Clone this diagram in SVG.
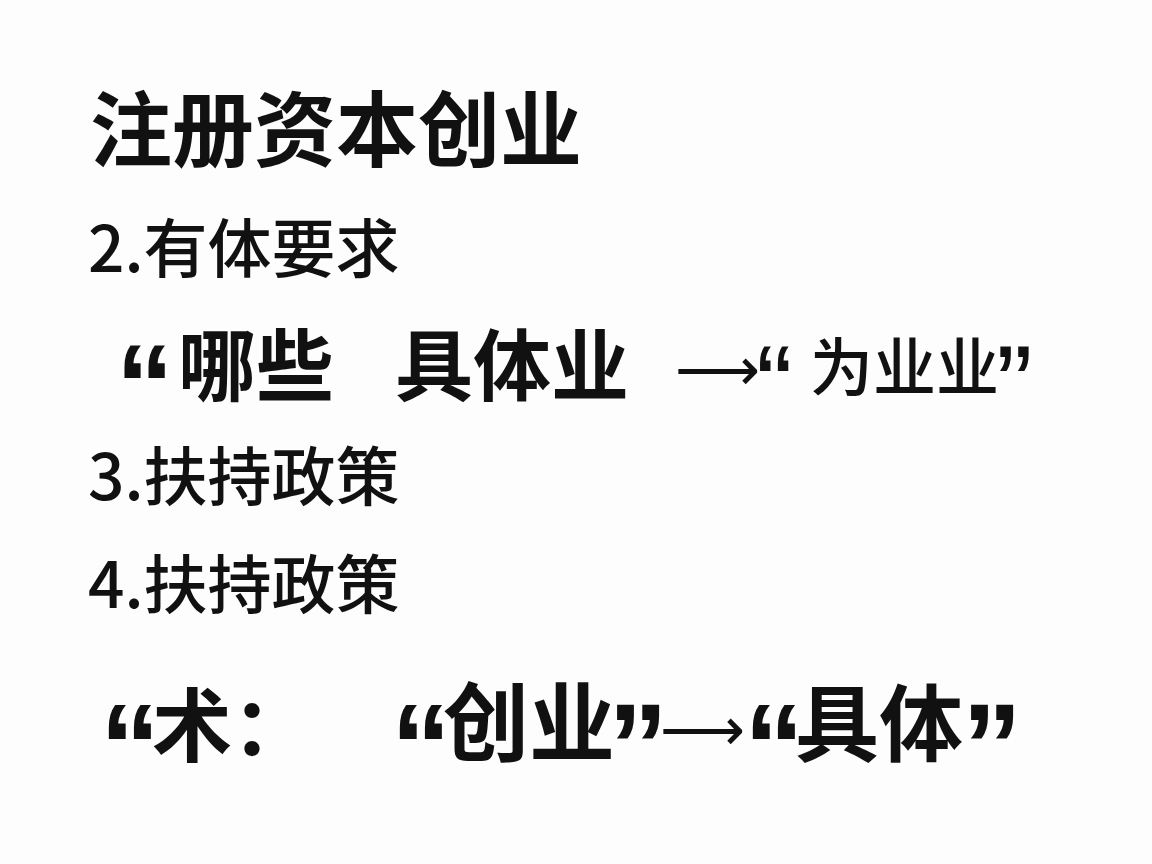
<svg xmlns="http://www.w3.org/2000/svg" width="1152" height="864" viewBox="0 0 1152 864">
<style>
text{font-family:"Noto Sans CJK SC","Noto Sans",sans-serif;fill:#111}
.b{font-weight:bold}
.r{font-weight:500}
.q{font-family:"Liberation Sans",Arial,sans-serif;font-weight:bold}
.qr{font-family:"Liberation Sans",Arial,sans-serif}
.a{font-family:"DejaVu Sans",sans-serif}
</style>
<rect width="1152" height="864" fill="#fdfdfd"/>
<g id="title"><text x="90" y="160" font-size="82" class="b">注册资本创业</text></g>
<g id="l2"><text x="88" y="272" font-size="64" class="r">2.有体要求</text></g>
<g id="l3">
<text x="116" y="425" font-size="115" class="q">“</text>
<text x="178" y="395" font-size="78" class="b">哪些</text>
<text x="395" y="395" font-size="78" class="b">具体业</text>
<text x="675" y="390" font-size="60" class="a" textLength="85" lengthAdjust="spacingAndGlyphs">⟶</text>
<text x="756" y="422" font-size="110" class="qr">“</text>
<text x="810" y="390" font-size="63" class="r">为业业</text>
<text x="996" y="422" font-size="110" class="qr">”</text>
</g>
<g id="l4"><text x="88" y="500" font-size="64" class="r">3.扶持政策</text></g>
<g id="l5"><text x="88" y="608" font-size="64" class="r">4.扶持政策</text></g>
<g id="l6">
<text x="100" y="788" font-size="120" class="q">“</text>
<text x="152" y="755" font-size="80" class="b">术：</text>
<text x="391" y="788" font-size="120" class="q">“</text>
<text x="443" y="755" font-size="86" class="b">创业</text>
<text x="608" y="788" font-size="120" class="q">”</text>
<text x="660" y="750" font-size="60" class="a" textLength="85" lengthAdjust="spacingAndGlyphs">⟶</text>
<text x="744" y="788" font-size="120" class="q">“</text>
<text x="795" y="755" font-size="84" class="b">具体</text>
<text x="962" y="788" font-size="120" class="q">”</text>
</g>
</svg>
